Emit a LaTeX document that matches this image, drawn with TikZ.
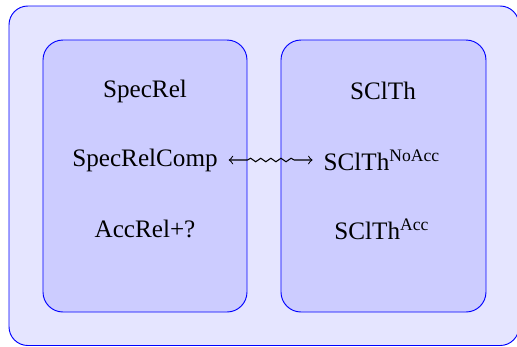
\documentclass[tikz,border=0pt]{standalone}
\usepackage{fontspec}
\setmainfont{Liberation Serif}
\usetikzlibrary{decorations.pathmorphing}
\begin{document}
\begin{tikzpicture}[x=0.4255pt,y=-0.4255pt,
  outerbox/.style={draw=blue,line width=0.4pt,fill=blue!10,rounded corners=8pt},
  innerbox/.style={draw=blue,line width=0.4pt,fill=blue!20,rounded corners=8.5pt,
    minimum width=204*0.4255pt,minimum height=272*0.4255pt,inner sep=0pt},
  lbl/.style={font=\fontsize{10.7}{13}\selectfont,inner sep=4.5pt},
  wavy/.style={<->,line width=0.45pt,decorate,decoration={snake,segment length=4.3pt,amplitude=0.75pt,
    pre length=8pt,post length=6.5pt}}]
\useasboundingbox (0,0) rectangle (517,346);
\coordinate (otl) at (9,6);
\coordinate (obr) at (519,345.5);
\begin{scope}
\clip (0,0) rectangle (517,346);
\draw[outerbox] (otl) rectangle (obr);
\end{scope}
\node[innerbox] (left) at (145,176) {};
\node[innerbox,minimum width=205*0.4255pt] (right) at (383.5,176) {};
\node[lbl] (sr) at (145,91) {SpecRel};
\node[lbl] (src) at (145,160) {SpecRelComp};
\node[lbl] (acc) at (145,229) {AccRel+?};
\node[lbl] (sc) at (383,91) {SClTh};
\node[lbl] (scn) at (382,160) {SClTh\textsuperscript{NoAcc}};
\node[lbl] (sca) at (382,229) {SClTh\textsuperscript{Acc}};
\draw[wavy] (src) -- (scn);
\end{tikzpicture}
\end{document}
